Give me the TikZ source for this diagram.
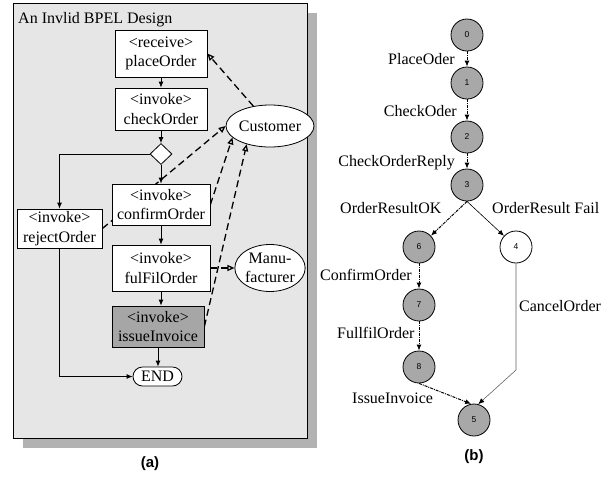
\documentclass[tikz,border=0pt]{standalone}
\usepackage{fontspec}
\setmainfont{Liberation Serif}
\setsansfont{Liberation Sans}
\usetikzlibrary{arrows.meta,shapes.geometric,shapes.misc}
\definecolor{panelgray}{RGB}{230,230,230}
\definecolor{shadowgray}{RGB}{178,178,178}
\definecolor{activegray}{RGB}{166,166,166}
\definecolor{stategray}{RGB}{168,168,168}
\definecolor{cancelgray}{RGB}{100,100,100}
\pgfdeclarelayer{back}
\pgfdeclarelayer{wires}
\pgfsetlayers{back,wires,main}
\begin{document}
\begin{tikzpicture}[x=1pt,y=-1pt,
		font=\fontsize{16}{19.5}\selectfont,
		box/.style={draw,fill=white,align=center,inner sep=0pt,line width=0.8pt},
		choice/.style={diamond,draw,fill=white,inner sep=0pt,minimum width=22pt,minimum height=21pt,line width=0.8pt},
		party/.style={ellipse,draw,fill=white,align=center,inner sep=0pt,line width=0.8pt},
		flow/.style={-{Latex[length=6pt,width=5pt]},line width=0.8pt},
		msg/.style={-{Triangle[length=7pt,width=6pt,fill=white]},dash pattern=on 7pt off 4pt,line width=1.3pt},
		state/.style={circle,draw,fill=stategray,minimum size=32pt,inner sep=0pt,line width=0.8pt,font=\sffamily\fontsize{8.5}{8.5}\selectfont},
		trans/.style={-{Latex[length=6pt,width=5pt]},dash pattern=on 3pt off 1pt on 1pt off 1pt,line width=1pt},
		lbl/.style={inner sep=0pt},
		caption/.style={font=\sffamily\bfseries\fontsize{15}{15}\selectfont}]
		\useasboundingbox (0,0) rectangle (610,477);
		% (a) the BPEL design
		\begin{pgfonlayer}{back}
			\fill[shadowgray] (23,13) rectangle (317,448);
			\draw[fill=panelgray,line width=0.8pt] (13,3) rectangle (307,438);
		\end{pgfonlayer}
		\node[lbl,anchor=base west] (title) at (18,23) {An Invlid BPEL Design};
		\node[box,minimum width=92pt,minimum height=47pt] (placeOrder) at (161,53.5) {<receive>\\placeOrder};
		\node[box,minimum width=92pt,minimum height=42pt] (checkOrder) at (161,109) {<invoke>\\checkOrder};
		\node[choice] (dec) at (161,154) {};
		\node[box,minimum width=98pt,minimum height=41pt] (confirmOrder) at (161,204.5) {<invoke>\\confirmOrder};
		\node[box,minimum width=85pt,minimum height=39pt] (rejectOrder) at (59.5,228.5) {<invoke>\\rejectOrder};
		\node[box,minimum width=98pt,minimum height=46pt] (fulFilOrder) at (161,268) {<invoke>\\fulFilOrder};
		\node[box,fill=activegray,minimum width=92pt,minimum height=41pt] (issueInvoice) at (158,326.5) {<invoke>\\issueInvoice};
		\node[rounded rectangle,draw,fill=white,inner sep=0pt,line width=0.8pt,minimum width=49pt,minimum height=19pt] (END) at (157.5,376.5) {END};
		\node[party,minimum width=70pt,minimum height=42pt] (Customer) at (270,126) {Customer};
		\node[party,minimum width=65pt,minimum height=47pt] (Manufacturer) at (270,268) {Manu-\\facturer};
		\draw[flow] (placeOrder) -- (checkOrder);
		\draw[flow] (checkOrder) -- (dec);
		\draw[flow] (dec) -- (confirmOrder);
		\draw[flow] (dec.west) -| (rejectOrder);
		\draw[flow] (confirmOrder) -- (fulFilOrder);
		\draw[flow] (fulFilOrder.south) -- (fulFilOrder.south |- issueInvoice.north);
		\draw[flow] (issueInvoice.south) -- (issueInvoice.south |- END.north);
		\draw[flow] (rejectOrder) |- (END);
		\begin{pgfonlayer}{wires}
			\draw[msg] (Customer.130) -- (placeOrder.east);
			\draw[msg] (rejectOrder.east) -- (Customer.west);
			\draw[msg] (confirmOrder.east) -- (Customer.197);
			\draw[msg] (fulFilOrder.east) -- (Manufacturer.west);
			\draw[msg] (issueInvoice.east) -- (Customer.218);
		\end{pgfonlayer}
		% (b) the state graph
		\node[state] (s0) at (467,35) {0};
		\node[state] (s1) at (467,83) {1};
		\node[state] (s2) at (467,137) {2};
		\node[state] (s3) at (467,185) {3};
		\node[state] (s6) at (419,247) {6};
		\node[state,fill=white] (s4) at (516,247) {4};
		\node[state] (s7) at (419,305) {7};
		\node[state] (s8) at (419,367) {8};
		\node[state] (s5) at (474,420) {5};
		\coordinate (cancelBend) at (516,370);
		\draw[trans] (s0) -- (s1);
		\draw[trans] (s1) -- (s2);
		\draw[trans] (s2) -- (s3);
		\draw[trans] (s3.south) -- (s6);
		\draw[-{Latex[length=6pt,width=5pt]},line width=0.6pt] (s3.south) -- (s4);
		\draw[trans] (s6) -- (s7);
		\draw[trans] (s7) -- (s8);
		\draw[trans] (s8.south) -- (s5.100);
		\draw[-{Latex[length=6pt,width=5pt,black]},line width=0.6pt,cancelgray] (s4) -- (cancelBend) -- (s5.75);
		\node[lbl,anchor=base east] (lPlace) at (455,64) {PlaceOder};
		\node[lbl,anchor=base east] (lCheck) at (457,116) {CheckOder};
		\node[lbl,anchor=base east] (lReply) at (455,166) {CheckOrderReply};
		\node[lbl,anchor=base west] (lOK) at (340,213) {OrderResultOK};
		\node[lbl,anchor=base west] (lFail) at (492,213) {OrderResult Fail};
		\node[lbl,anchor=base west] (lConfirm) at (320,280) {ConfirmOrder};
		\node[lbl,anchor=base west] (lFulfil) at (337,338) {FullfilOrder};
		\node[lbl,anchor=base west] (lInvoice) at (352,403) {IssueInvoice};
		\node[lbl,anchor=base west] (lCancel) at (519,311) {CancelOrder};
		% captions
		\node[caption] (capA) at (150,464) {(a)};
		\node[caption] (capB) at (474,457) {(b)};
	\end{tikzpicture}
\end{document}
